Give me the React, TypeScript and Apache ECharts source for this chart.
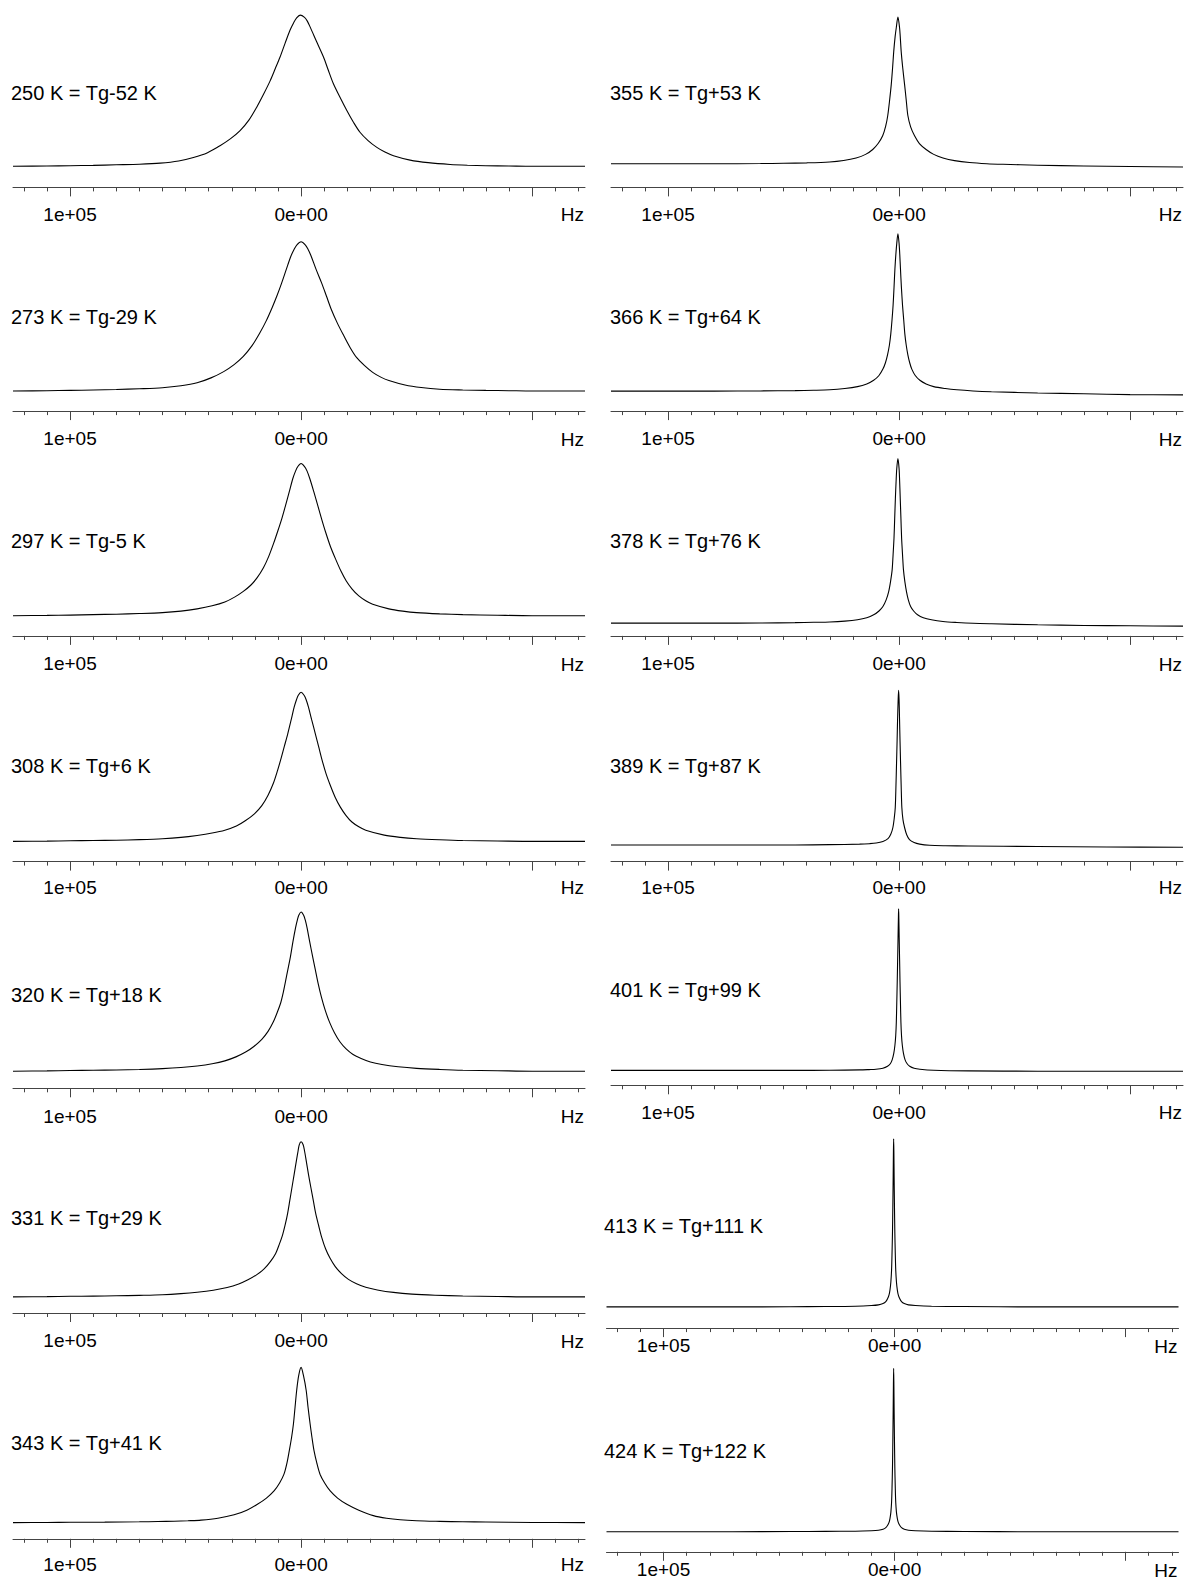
import React, { useEffect, useRef } from "react";
import * as echarts from "echarts";

// ---------- axis definition (Hz) ----------
const X_MIN = -122900;
const X_MAX = 124700;
const MAJOR_TICKS = [100000, 0, -100000];
const LABELED_TICKS = [100000, 0];
const MINOR_TICKS = [
  120000, 110000, 90000, 80000, 70000, 60000, 50000, 40000, 30000, 20000, 10000,
  -10000, -20000, -30000, -40000, -50000, -60000, -70000, -80000, -90000, -110000, -120000,
];
const TICK_TEXT: Record<string, string> = { "100000": "1e+05", "0": "0e+00" };
const UNIT_LABEL = "Hz";

// ---------- panel titles ----------
const TITLES = [
  "250 K = Tg-52 K", "273 K = Tg-29 K", "297 K = Tg-5 K", "308 K = Tg+6 K",
  "320 K = Tg+18 K", "331 K = Tg+29 K", "343 K = Tg+41 K",
  "355 K = Tg+53 K", "366 K = Tg+64 K", "378 K = Tg+76 K", "389 K = Tg+87 K",
  "401 K = Tg+99 K", "413 K = Tg+111 K", "424 K = Tg+122 K",
];

// ---------- spectra: [frequency kHz, relative intensity] ----------
const S250 = [[124.7,0],[110,0.002],[100,0.004],[90,0.006],[80,0.01],[70,0.014],[61,0.021],[53,0.035],[46.6,0.058],[40.5,0.09],[35.1,0.136],[30.5,0.183],[26.4,0.236],[22.6,0.305],[19.2,0.391],[16.2,0.478],[13.4,0.565],[11.2,0.645],[9.1,0.723],[6.9,0.815],[4.8,0.9],[3.2,0.95],[2,0.98],[0.4,1],[-1.5,0.985],[-2.7,0.96],[-3.9,0.922],[-6.7,0.825],[-9.7,0.723],[-11.8,0.635],[-14,0.546],[-16.9,0.455],[-19.8,0.369],[-22.6,0.293],[-25.5,0.225],[-29,0.17],[-32.8,0.125],[-36.3,0.094],[-40,0.07],[-47.2,0.041],[-55,0.024],[-64.5,0.012],[-72,0.007],[-80,0.004],[-90,0.002],[-100,0],[-122.9,0]];
const S273 = [[124.7,0],[110,0.002],[100,0.004],[90,0.007],[80,0.01],[70,0.015],[60,0.022],[52,0.035],[45,0.055],[39,0.088],[33.5,0.13],[29,0.177],[25,0.232],[21.3,0.302],[18,0.385],[15.1,0.47],[12.5,0.56],[10.4,0.64],[8.5,0.72],[6.4,0.815],[4.5,0.9],[3,0.95],[1.8,0.98],[0,1],[-1.8,0.98],[-3,0.95],[-4.2,0.91],[-6.5,0.815],[-9,0.72],[-11,0.635],[-13,0.55],[-15.7,0.455],[-18.5,0.37],[-21.2,0.292],[-24,0.225],[-27.5,0.17],[-31,0.125],[-34.5,0.093],[-38,0.07],[-45,0.04],[-52,0.023],[-60,0.012],[-70,0.007],[-80,0.004],[-90,0.002],[-100,0],[-122.9,0]];
const S297 = [[124.7,0],[110,0.002],[100,0.004],[90,0.007],[80,0.01],[70,0.014],[60,0.02],[52,0.03],[45,0.045],[38.5,0.065],[33,0.09],[28.8,0.122],[25,0.16],[21.8,0.2],[19,0.25],[16.3,0.315],[14,0.39],[11.9,0.475],[10,0.56],[8.3,0.64],[6.8,0.72],[5.1,0.815],[3.6,0.9],[2.4,0.95],[1.4,0.98],[0,1],[-1.5,0.98],[-2.6,0.95],[-3.8,0.9],[-5.5,0.815],[-7.3,0.72],[-8.9,0.635],[-10.6,0.55],[-12.7,0.455],[-15,0.37],[-17.2,0.295],[-19.5,0.23],[-22.1,0.175],[-25,0.13],[-28,0.098],[-31,0.075],[-38,0.045],[-44,0.03],[-50,0.02],[-60,0.012],[-70,0.007],[-85,0.003],[-100,0],[-122.9,0]];
const S308 = [[124.7,0],[110,0.002],[100,0.004],[90,0.006],[80,0.008],[70,0.012],[60,0.018],[52,0.027],[45,0.04],[38.5,0.056],[33,0.075],[28,0.103],[24,0.14],[20.2,0.185],[17,0.24],[14.3,0.31],[12,0.39],[10.2,0.475],[8.6,0.56],[7.2,0.64],[5.8,0.72],[4.3,0.815],[3,0.9],[2,0.95],[1.2,0.98],[0,1],[-1.3,0.98],[-2.2,0.95],[-3.2,0.9],[-4.6,0.815],[-6.2,0.72],[-7.6,0.635],[-9,0.55],[-10.8,0.455],[-12.8,0.37],[-14.8,0.295],[-17,0.23],[-19.4,0.175],[-22,0.13],[-25,0.098],[-28,0.075],[-36,0.042],[-43,0.027],[-50,0.018],[-60,0.011],[-70,0.006],[-85,0.003],[-100,0],[-122.9,0]];
const S320 = [[124.7,0],[110,0.002],[100,0.004],[90,0.006],[80,0.008],[70,0.011],[60,0.016],[52,0.023],[45,0.033],[38.5,0.047],[33,0.065],[28.2,0.09],[24,0.12],[20.3,0.157],[17,0.2],[14.3,0.25],[12,0.31],[10.3,0.37],[8.8,0.43],[7.7,0.495],[6.8,0.56],[5.7,0.64],[4.6,0.72],[3.5,0.815],[2.4,0.9],[1.6,0.95],[1,0.98],[0,1],[-1.1,0.98],[-1.8,0.95],[-2.6,0.9],[-3.7,0.815],[-5,0.72],[-6.2,0.635],[-7.4,0.55],[-8.8,0.465],[-10.5,0.38],[-12.4,0.305],[-14.5,0.24],[-16.8,0.185],[-19.5,0.14],[-22.5,0.105],[-26,0.08],[-30,0.058],[-35,0.042],[-42,0.028],[-50,0.018],[-60,0.011],[-70,0.006],[-85,0.003],[-100,0],[-122.9,0]];
const S331 = [[124.7,0],[110,0.002],[100,0.004],[90,0.005],[80,0.007],[70,0.01],[60,0.014],[52,0.021],[45,0.03],[38,0.043],[32,0.06],[27,0.083],[23,0.11],[19.3,0.142],[16,0.18],[13.3,0.227],[11,0.28],[9.4,0.34],[8,0.4],[6.8,0.47],[5.8,0.54],[4.9,0.62],[4,0.7],[3,0.79],[2,0.88],[1.3,0.94],[0.8,0.98],[0,1],[-0.9,0.98],[-1.5,0.94],[-2.2,0.88],[-3.2,0.79],[-4.3,0.7],[-5.3,0.62],[-6.3,0.54],[-7.6,0.46],[-9,0.38],[-10.6,0.31],[-12.5,0.25],[-14.8,0.195],[-17.5,0.15],[-20.5,0.113],[-24,0.085],[-28,0.062],[-33,0.045],[-40,0.029],[-48,0.018],[-58,0.011],[-70,0.006],[-85,0.003],[-100,0],[-122.9,0]];
const S343 = [[124.7,0],[110,0.001],[100,0.002],[85,0.003],[70,0.005],[62,0.007],[55,0.009],[49,0.012],[43.3,0.016],[36,0.028],[29,0.05],[23.5,0.08],[18.9,0.118],[15,0.158],[11.7,0.204],[9.3,0.255],[7.4,0.312],[6.1,0.385],[5.1,0.464],[4.1,0.55],[3.3,0.637],[2.6,0.745],[1.9,0.853],[1,0.95],[0,1],[-1,0.95],[-2.2,0.853],[-3,0.745],[-3.9,0.637],[-4.7,0.55],[-5.6,0.464],[-6.8,0.385],[-8.2,0.312],[-10.2,0.255],[-12.6,0.204],[-15.8,0.158],[-19.8,0.118],[-25,0.08],[-31.3,0.045],[-37,0.028],[-42.9,0.018],[-50,0.012],[-60,0.008],[-70,0.005],[-80,0.004],[-100,0.001],[-122.9,0]];
const S355 = [[124.7,0.012],[100,0.012],[80,0.012],[60,0.013],[50,0.015],[40,0.018],[30.1,0.024],[24,0.034],[18.6,0.051],[14.5,0.075],[11.4,0.108],[9,0.15],[7.1,0.2],[5.8,0.265],[4.9,0.337],[4.1,0.44],[3.4,0.543],[2.8,0.66],[2.3,0.771],[1.7,0.87],[1.2,0.93],[0.5,1],[-0.2,0.93],[-0.5,0.87],[-0.9,0.771],[-1.6,0.655],[-2.4,0.543],[-3.1,0.44],[-3.8,0.337],[-5,0.26],[-6.7,0.2],[-8.8,0.148],[-11.7,0.108],[-15,0.075],[-19,0.051],[-24,0.033],[-30.5,0.02],[-38,0.012],[-45,0.008],[-60,0.002],[-80,-0.003],[-100,-0.007],[-122.9,-0.01]];
const S366 = [[124.7,0.012],[100,0.012],[80,0.012],[60,0.013],[45,0.015],[37,0.017],[30,0.02],[23.5,0.028],[18,0.04],[14,0.057],[11,0.08],[8.7,0.11],[7,0.15],[5.9,0.19],[5,0.24],[4.2,0.3],[3.6,0.37],[3.05,0.46],[2.6,0.55],[2.2,0.66],[1.8,0.78],[1.4,0.87],[1,0.94],[0.5,1],[0,0.94],[-0.3,0.87],[-0.6,0.78],[-1,0.665],[-1.5,0.55],[-2,0.46],[-2.5,0.37],[-3.1,0.3],[-3.8,0.24],[-4.6,0.19],[-5.5,0.15],[-7,0.11],[-9,0.08],[-11.7,0.057],[-15,0.04],[-20,0.028],[-25,0.02],[-32,0.013],[-40,0.008],[-60,0],[-80,-0.005],[-100,-0.01],[-122.9,-0.012]];
const S378 = [[124.7,0.01],[100,0.01],[80,0.01],[60,0.011],[45,0.013],[37,0.015],[30,0.017],[23.5,0.022],[18,0.03],[14,0.042],[11,0.06],[8.7,0.083],[7,0.11],[5.6,0.15],[4.5,0.2],[3.7,0.26],[3,0.33],[2.6,0.42],[2.2,0.52],[1.9,0.64],[1.6,0.76],[1.3,0.86],[1,0.94],[0.5,1],[0,0.94],[-0.25,0.86],[-0.5,0.76],[-0.8,0.64],[-1.1,0.52],[-1.5,0.42],[-1.9,0.33],[-2.5,0.26],[-3.2,0.2],[-4,0.15],[-5,0.11],[-6.3,0.083],[-8,0.06],[-10.5,0.042],[-14,0.03],[-19,0.02],[-25,0.014],[-32,0.009],[-40,0.006],[-60,0],[-80,-0.004],[-100,-0.006],[-122.9,-0.008]];
const S389 = [[124.7,0.01],[100,0.01],[70,0.01],[45,0.01],[30,0.012],[17.1,0.015],[12.8,0.018],[9.9,0.022],[7,0.032],[4.8,0.05],[3.6,0.078],[2.7,0.12],[2.1,0.18],[1.65,0.25],[1.35,0.39],[1.1,0.533],[0.85,0.68],[0.65,0.815],[0.4,0.94],[0.2,1],[0,0.94],[-0.2,0.815],[-0.4,0.68],[-0.65,0.533],[-0.9,0.39],[-1.2,0.25],[-1.7,0.17],[-2.4,0.12],[-3.3,0.075],[-4.5,0.044],[-6.5,0.025],[-8.9,0.015],[-13.2,0.008],[-20,0.005],[-30,0.003],[-60,0],[-90,-0.003],[-122.9,-0.005]];
const S401 = [[124.7,0.005],[100,0.005],[70,0.005],[45,0.005],[30,0.006],[17,0.008],[13,0.01],[10,0.012],[7,0.018],[5,0.03],[3.8,0.046],[3,0.07],[2.3,0.11],[1.8,0.16],[1.45,0.22],[1.2,0.3],[1,0.42],[0.8,0.55],[0.62,0.69],[0.45,0.82],[0.3,0.94],[0.2,1],[0.1,0.94],[-0.05,0.82],[-0.22,0.69],[-0.4,0.55],[-0.6,0.42],[-0.8,0.3],[-1.05,0.22],[-1.4,0.16],[-1.9,0.11],[-2.6,0.07],[-3.5,0.046],[-4.6,0.03],[-6.5,0.018],[-9,0.012],[-15,0.006],[-30,0.002],[-60,0],[-90,0],[-122.9,0]];
const S413 = [[124.7,0],[100,0],[70,0],[45,0.001],[30,0.002],[17,0.004],[10,0.008],[7,0.012],[5,0.02],[3.8,0.032],[3,0.05],[2.4,0.072],[2,0.1],[1.6,0.15],[1.3,0.22],[1.1,0.32],[0.9,0.45],[0.75,0.6],[0.6,0.78],[0.5,0.92],[0.4,1],[0.3,0.92],[0.2,0.78],[0.05,0.6],[-0.1,0.45],[-0.3,0.32],[-0.5,0.22],[-0.8,0.15],[-1.2,0.1],[-1.6,0.072],[-2.2,0.05],[-3,0.032],[-4.2,0.02],[-6,0.012],[-9,0.008],[-16,0.004],[-30,0.002],[-60,0],[-122.9,0]];
const S424 = [[124.7,0],[100,0],[70,0],[45,0.001],[30,0.002],[17,0.003],[10,0.006],[7,0.009],[5,0.015],[3.8,0.025],[3,0.04],[2.4,0.057],[2,0.08],[1.6,0.12],[1.3,0.18],[1.1,0.27],[0.9,0.4],[0.75,0.56],[0.6,0.75],[0.5,0.9],[0.4,1],[0.3,0.9],[0.2,0.75],[0.05,0.56],[-0.1,0.4],[-0.3,0.27],[-0.5,0.18],[-0.8,0.12],[-1.2,0.08],[-1.6,0.057],[-2.2,0.04],[-3,0.025],[-4.2,0.015],[-6,0.009],[-9,0.006],[-16,0.003],[-30,0.001],[-60,0],[-122.9,0]];

const SPECTRA = [S250, S273, S297, S308, S320, S331, S343, S355, S366, S378, S389, S401, S413, S424];

// ---------- layout (pixels): left, peakY, baseY, axisY, labelY, titleX, titleY ----------
const LAYOUT = [
  [13, 15.1, 166.3, 187.4, 214.6, 11, 92.7],
  [13, 241.8, 391, 411.1, 439.4, 11, 317.4],
  [13, 463.5, 615.7, 635.9, 664.1, 11, 541.1],
  [13, 692.3, 841.4, 861.6, 887.8, 11, 765.9],
  [13, 912, 1071.2, 1088.3, 1116.5, 11, 994.6],
  [13, 1141.7, 1296.9, 1313, 1341.2, 11, 1218.3],
  [13, 1367.4, 1522.6, 1538.8, 1564.9, 11, 1443.1],
  [611, 17.1, 165.5, 187.4, 214.6, 610, 92.7],
  [611, 233.8, 393, 411.1, 439.4, 610, 317.4],
  [611, 458.5, 624.8, 635.9, 664.1, 610, 541.1],
  [611, 690.3, 846.5, 861.6, 887.8, 610, 765.9],
  [611, 908.9, 1071.2, 1085.3, 1112.5, 610, 989.5],
  [606.5, 1138.7, 1306.9, 1328.1, 1346.2, 604, 1226.3],
  [606.5, 1368.4, 1531.7, 1551.8, 1570, 604, 1451.1],
];
const GRID_WIDTH = 572;
const FONT = "'Liberation Sans', Arial, Helvetica, sans-serif";
const AXIS_COLOR = "#444";

export default function App() {
  const ref = useRef<HTMLDivElement>(null);
  useEffect(() => {
    if (!ref.current) return;
    const chart = echarts.init(ref.current, undefined, { renderer: "svg" });
    const grid: any[] = [];
    const xAxis: any[] = [];
    const yAxis: any[] = [];
    const series: any[] = [];
    const graphic: any[] = [];
    LAYOUT.forEach((L, i) => {
      const [left, peakY, baseY, axisY, labelY, titleX, titleY] = L;
      grid.push({ left, top: peakY, width: GRID_WIDTH, height: axisY - peakY, containLabel: false });
      const common = {
        type: "value", gridIndex: i, min: X_MIN, max: X_MAX, inverse: true,
        position: "bottom", offset: 0, splitLine: { show: false },
      };
      xAxis.push({
        ...common,
        axisLine: { show: true, onZero: false, lineStyle: { color: AXIS_COLOR, width: 1 } },
        axisTick: { show: true, customValues: MAJOR_TICKS, length: 9, lineStyle: { color: AXIS_COLOR, width: 1 } },
        axisLabel: {
          show: true, customValues: LABELED_TICKS, margin: labelY - axisY - 10,
          formatter: (v: number) => TICK_TEXT[String(v)] ?? "",
          fontSize: 19, color: "#000", fontFamily: FONT,
        },
      });
      xAxis.push({
        ...common,
        axisLine: { show: false, onZero: false },
        axisTick: { show: true, customValues: MINOR_TICKS, length: 4, lineStyle: { color: AXIS_COLOR, width: 1 } },
        axisLabel: { show: false },
      });
      const ymin = -(axisY - baseY) / (baseY - peakY);
      yAxis.push({ type: "value", gridIndex: i, min: ymin, max: 1, show: false });
      series.push({
        type: "line", xAxisIndex: 2 * i, yAxisIndex: i,
        data: SPECTRA[i].map(([k, h]) => [k * 1000, h]),
        showSymbol: false, symbol: "none", clip: false,
        smooth: 0.3,
        lineStyle: { color: "#000", width: 1.1 },
      });
      graphic.push({
        type: "text", x: titleX, y: titleY,
        style: { text: TITLES[i], fontSize: 20, fontFamily: FONT, fill: "#000", textVerticalAlign: "middle", textAlign: "left" },
      });
      graphic.push({
        type: "text", x: left + GRID_WIDTH - 1, y: labelY,
        style: { text: UNIT_LABEL, fontSize: 19, fontFamily: FONT, fill: "#000", textVerticalAlign: "middle", textAlign: "right" },
      });
    });
    chart.setOption({
      animation: false,
      backgroundColor: "#fff",
      grid, xAxis, yAxis, series, graphic,
    });
    return () => chart.dispose();
  }, []);
  return <div ref={ref} style={{ position: "absolute", left: 0, top: 0, width: 1186, height: 1580 }} />;
}
